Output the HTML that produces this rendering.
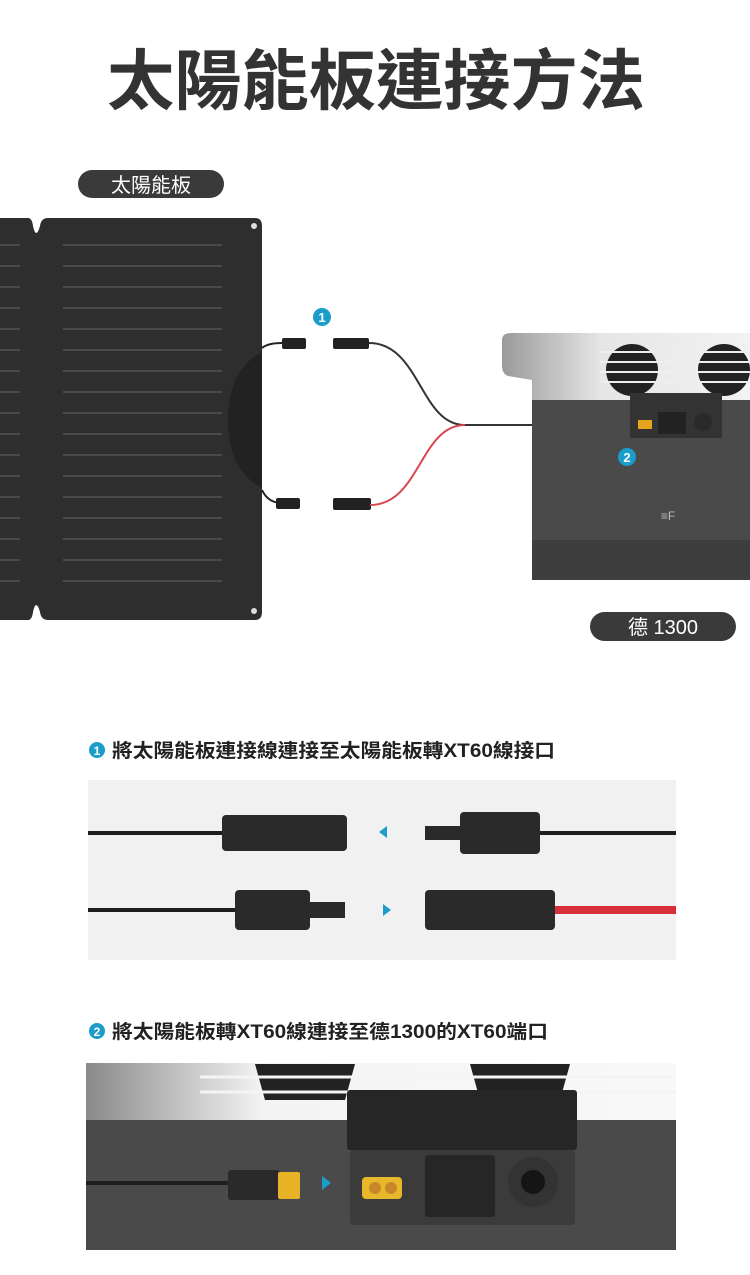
<!DOCTYPE html>
<html><head><meta charset="utf-8"><style>
html,body{margin:0;padding:0;background:#fff;width:750px;height:1275px;overflow:hidden}
svg text{font-family:"Liberation Sans","Noto Sans CJK TC",sans-serif}
</style></head><body>
<svg width="750" height="1275" viewBox="0 0 750 1275" xmlns="http://www.w3.org/2000/svg">
<defs>
<linearGradient id="sil" x1="0" y1="0" x2="1" y2="0"><stop offset="0" stop-color="#9a9a9a"/><stop offset="0.4" stop-color="#e6e6e6"/><stop offset="1" stop-color="#f2f2f2"/></linearGradient>
<linearGradient id="sil2" x1="0" y1="0" x2="1" y2="0"><stop offset="0" stop-color="#8a8a8a"/><stop offset="0.3" stop-color="#f4f4f4"/><stop offset="1" stop-color="#f8f8f8"/></linearGradient>
</defs>
<text x="107" y="104" textLength="538" lengthAdjust="spacingAndGlyphs" font-size="66" font-weight="bold" fill="#333">太陽能板連接方法</text>
<rect x="78" y="170" width="146" height="28" rx="14" fill="#3a3a3a"/>
<text x="151" y="192" text-anchor="middle" font-size="20" fill="#fff">太陽能板</text>
<!-- panel -->
<path d="M0 218 H28 Q32 218 33 226 Q36 240 40 226 Q41 218 48 218 H255 Q262 218 262 226 V612 Q262 620 255 620 H48 Q41 620 40 612 Q36 598 33 612 Q32 620 28 620 H0Z" fill="#2e2e2e"/>
<g stroke="#5a5a5a" stroke-width="1.2">
<path d="M0 245H20M63 245H222M0 266H20M63 266H222M0 287H20M63 287H222M0 308H20M63 308H222M0 329H20M63 329H222M0 350H20M63 350H222M0 371H20M63 371H222M0 392H20M63 392H222M0 413H20M63 413H222M0 434H20M63 434H222M0 455H20M63 455H222M0 476H20M63 476H222M0 497H20M63 497H222M0 518H20M63 518H222M0 539H20M63 539H222M0 560H20M63 560H222M0 581H20M63 581H222"/>
</g>
<circle cx="254" cy="226" r="3" fill="#ddd"/><circle cx="254" cy="611" r="3" fill="#ddd"/>
<path d="M262 352 Q228 370 228 420 Q228 470 262 488Z" fill="#222"/>
<!-- cables -->
<path d="M262 348 Q268 343 282 343 M262 490 Q268 503 282 503" stroke="#222" stroke-width="2" fill="none"/>
<rect x="282" y="338" width="24" height="11" rx="2" fill="#222"/>
<rect x="276" y="498" width="24" height="11" rx="2" fill="#222"/>
<rect x="333" y="338" width="36" height="11" rx="2" fill="#222"/>
<rect x="333" y="498" width="38" height="12" rx="2" fill="#222"/>
<path d="M369 343 C420 343 420 425 465 425 H595" stroke="#333" stroke-width="2" fill="none"/>
<path d="M370 505 C420 505 420 425 465 425" stroke="#d9464f" stroke-width="2" fill="none"/>
<rect x="596" y="420" width="10" height="12" rx="1" fill="#e6a41c"/>
<!-- device -->
<path d="M502 340 Q502 333 512 333 H750 V400 H532 V380 Q520 378 508 376 Q502 374 502 365Z" fill="url(#sil)"/>
<circle cx="632" cy="370" r="26" fill="#222"/><circle cx="724" cy="370" r="26" fill="#222"/>
<g stroke="#eee" stroke-width="2"><path d="M600 352H750M600 362H750M600 372H750M600 382H750"/></g>
<path d="M532 400 H750 V580 H540 Q532 580 532 570Z" fill="#4a4a4a"/>
<rect x="532" y="540" width="218" height="40" fill="#3e3e3e"/>
<rect x="630" y="393" width="92" height="45" fill="#333"/>
<rect x="638" y="420" width="14" height="9" fill="#e6a41c"/>
<rect x="658" y="412" width="28" height="22" fill="#222"/>
<circle cx="703" cy="422" r="9" fill="#2a2a2a"/>
<text x="668" y="520" text-anchor="middle" font-size="12" fill="#bbb">≡F</text>
<circle cx="322" cy="317" r="9" fill="#1a9ec9"/><text x="322" y="322" text-anchor="middle" font-size="13" font-weight="bold" fill="#fff">1</text>
<circle cx="627" cy="457" r="9" fill="#1a9ec9"/><text x="627" y="462" text-anchor="middle" font-size="13" font-weight="bold" fill="#fff">2</text>
<rect x="590" y="612" width="146" height="29" rx="14.5" fill="#3a3a3a"/>
<text x="663" y="634" text-anchor="middle" font-size="20" fill="#fff">德 1300</text>
<!-- section 1 -->
<circle cx="97" cy="750" r="8" fill="#1a9ec9"/><text x="97" y="755" text-anchor="middle" font-size="12" font-weight="bold" fill="#fff">1</text>
<text x="112" y="757" textLength="443" lengthAdjust="spacingAndGlyphs" font-size="19" font-weight="bold" fill="#222">將太陽能板連接線連接至太陽能板轉XT60線接口</text>
<rect x="88" y="780" width="588" height="180" fill="#f1f1f1"/>
<path d="M88 833H225M88 910H240" stroke="#1e1e1e" stroke-width="4"/>
<rect x="222" y="815" width="125" height="36" rx="4" fill="#2a2a2a"/>
<rect x="235" y="890" width="75" height="40" rx="4" fill="#2a2a2a"/><rect x="310" y="902" width="35" height="16" fill="#2a2a2a"/>
<polygon points="387,826 379,832 387,838" fill="#1a9ec9"/>
<polygon points="383,904 391,910 383,916" fill="#1a9ec9"/>
<rect x="425" y="826" width="40" height="14" fill="#2a2a2a"/><rect x="460" y="812" width="80" height="42" rx="4" fill="#2a2a2a"/>
<path d="M540 833H676" stroke="#1e1e1e" stroke-width="4"/>
<rect x="425" y="890" width="130" height="40" rx="4" fill="#2a2a2a"/>
<path d="M555 910H676" stroke="#d8303a" stroke-width="8"/>
<!-- section 2 -->
<circle cx="97" cy="1031" r="8" fill="#1a9ec9"/><text x="97" y="1036" text-anchor="middle" font-size="12" font-weight="bold" fill="#fff">2</text>
<text x="112" y="1038" textLength="436" lengthAdjust="spacingAndGlyphs" font-size="19" font-weight="bold" fill="#222">將太陽能板轉XT60線連接至德1300的XT60端口</text>
<rect x="86" y="1063" width="590" height="187" rx="4" fill="#444"/>
<rect x="86" y="1063" width="590" height="57" fill="url(#sil2)"/>
<path d="M255 1064H355L345 1100H265Z" fill="#222"/><path d="M470 1064H570L560 1100H480Z" fill="#222"/>
<g stroke="#f4f4f4" stroke-width="3"><path d="M200 1077H676M200 1092H676"/></g>
<rect x="86" y="1120" width="590" height="130" fill="#4a4a4a"/>
<rect x="347" y="1090" width="230" height="60" rx="3" fill="#262626"/>
<rect x="350" y="1150" width="225" height="75" rx="3" fill="#3b3b3b"/>
<rect x="362" y="1177" width="40" height="22" rx="4" fill="#e8b82a"/>
<circle cx="375" cy="1188" r="6" fill="#c8872a"/><circle cx="391" cy="1188" r="6" fill="#c8872a"/>
<rect x="425" y="1155" width="70" height="62" rx="3" fill="#262626"/>
<circle cx="533" cy="1182" r="25" fill="#333"/><circle cx="533" cy="1182" r="12" fill="#151515"/>
<path d="M86 1183H230" stroke="#1e1e1e" stroke-width="4"/>
<rect x="228" y="1170" width="52" height="30" rx="3" fill="#2a2a2a"/>
<rect x="278" y="1172" width="22" height="27" rx="2" fill="#e9b327"/>
<polygon points="322,1176 331,1183 322,1190" fill="#1a9ec9"/>
</svg>
</body></html>
